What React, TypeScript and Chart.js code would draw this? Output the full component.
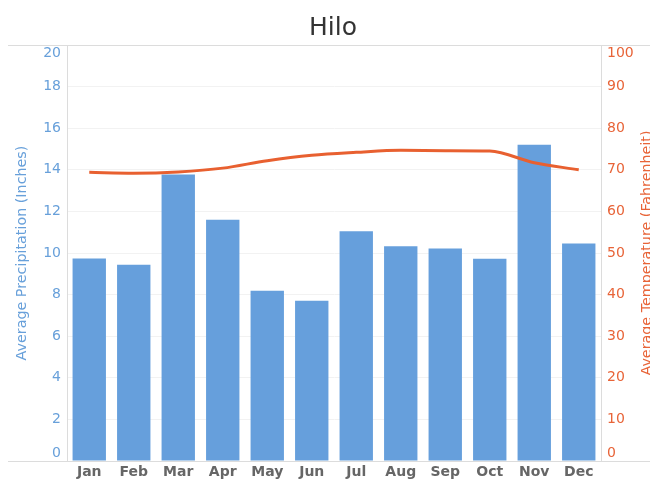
import React, { useEffect, useRef } from "react";
import { Chart, registerables } from "chart.js";

Chart.register(...registerables);

const months = ["Jan", "Feb", "Mar", "Apr", "May", "Jun", "Jul", "Aug", "Sep", "Oct", "Nov", "Dec"];
const precipitation = [9.73, 9.43, 13.77, 11.6, 8.19, 7.71, 11.04, 10.33, 10.22, 9.72, 15.21, 10.46];
const temperature = [69.4, 69.2, 69.5, 70.4, 72.2, 73.5, 74.2, 74.7, 74.6, 74.5, 71.7, 70.0];

const precipTitle = "Average Precipitation (Inches)";
const tempTitle = "Average Temperature (Fahrenheit)";

const BLUE = "rgb(102,159,220)";
const BLUE_TEXT = "rgb(104,160,218)";
const ORANGE = "rgb(232,96,48)";
const ORANGE_TEXT = "rgb(232,100,56)";

const frameLines = {
  id: "frameLines",
  beforeDraw(chart: any) {
    // keep the outermost tick labels inside the plot's vertical range
    ["yP", "yT"].forEach((id) => {
      const scale = chart.scales[id];
      if (!scale) return;
      const items = scale.getLabelItems();
      if (!items || !items.length) return;
      const first = items[0];
      const last = items[items.length - 1];
      first.options.textBaseline = "bottom";
      first.options.translation = [first.options.translation[0], first.options.translation[1] - 1];
      last.options.textBaseline = "top";
      last.options.translation = [last.options.translation[0], last.options.translation[1] + 1];
    });
  },
  afterDraw(chart: any) {
    const { ctx, chartArea, width } = chart;
    ctx.save();
    ctx.strokeStyle = "#dcdcdc";
    ctx.lineWidth = 1;
    ctx.beginPath();
    ctx.moveTo(0, Math.round(chartArea.top) + 0.5);
    ctx.lineTo(width, Math.round(chartArea.top) + 0.5);
    ctx.moveTo(0, Math.round(chartArea.bottom) + 0.5);
    ctx.lineTo(width, Math.round(chartArea.bottom) + 0.5);
    ctx.stroke();
    // right axis title, reading bottom-to-top like the left one
    ctx.fillStyle = ORANGE_TEXT;
    ctx.font = "14.3px 'DejaVu Sans'";
    ctx.textAlign = "center";
    ctx.textBaseline = "middle";
    ctx.translate(chartArea.right + 46, (chartArea.top + chartArea.bottom) / 2);
    ctx.rotate(-Math.PI / 2);
    ctx.fillText(tempTitle, 0, 0);
    ctx.restore();
  },
};

export default function App() {
  const ref = useRef<HTMLCanvasElement>(null);
  useEffect(() => {
    if (!ref.current) return;
    const chart = new Chart(ref.current, {
      type: "bar",
      data: {
        labels: months,
        datasets: [
          {
            type: "line",
            label: "Average Temperature",
            data: temperature,
            yAxisID: "yT",
            borderColor: ORANGE,
            backgroundColor: ORANGE,
            borderWidth: 3,
            pointRadius: 0,
            cubicInterpolationMode: "monotone",
            order: 0,
          } as any,
          {
            type: "bar",
            label: "Average Precipitation",
            data: precipitation,
            yAxisID: "yP",
            backgroundColor: BLUE,
            barPercentage: 0.75,
            categoryPercentage: 1,
            order: 1,
          },
        ],
      },
      options: {
        responsive: false,
        animation: false,
        layout: { padding: 0 },
        plugins: {
          legend: { display: false },
          tooltip: { enabled: false },
          title: {
            display: true,
            text: "Hilo",
            color: "#333333",
            font: { family: "DejaVu Sans", size: 25, weight: "normal" },
            padding: { top: 5, bottom: 2 },
          },
        },
        scales: {
          x: {
            offset: true,
            grid: { display: false, drawTicks: false, tickLength: 0 },
            border: { display: false },
            ticks: {
              color: "#666666",
              font: { family: "DejaVu Sans", size: 14, weight: "bold" },
              padding: 3,
            },
            afterFit(scale: any) {
              scale.height = 28;
            },
          },
          yP: {
            position: "left",
            min: 0,
            max: 20,
            ticks: {
              stepSize: 2,
              color: BLUE_TEXT,
              font: { family: "DejaVu Sans", size: 14 },
              padding: 6,
            },
            grid: { color: "#f2f2f2", drawTicks: false },
            border: { color: "#dcdcdc" },
            title: {
              display: true,
              text: precipTitle,
              color: BLUE_TEXT,
              font: { family: "DejaVu Sans", size: 14.3 },
              padding: { top: 5.5, bottom: 0 },
            },
            afterFit(scale: any) {
              scale.width = 59;
            },
          },
          yT: {
            position: "right",
            min: 0,
            max: 100,
            ticks: {
              stepSize: 10,
              color: ORANGE_TEXT,
              font: { family: "DejaVu Sans", size: 14 },
              padding: 6,
            },
            grid: { display: false, drawTicks: false },
            border: { color: "#dcdcdc" },
            title: { display: false },
            afterFit(scale: any) {
              scale.width = 57;
            },
          },
        },
      } as any,
      plugins: [frameLines],
    });
    return () => chart.destroy();
  }, []);
  return (
    <div
      style={{
        position: "fixed",
        left: 8,
        top: 8,
        width: 642,
        height: 473,
        overflow: "hidden",
      }}
    >
      <canvas ref={ref} width={650} height={481} style={{ display: "block" }} />
    </div>
  );
}
